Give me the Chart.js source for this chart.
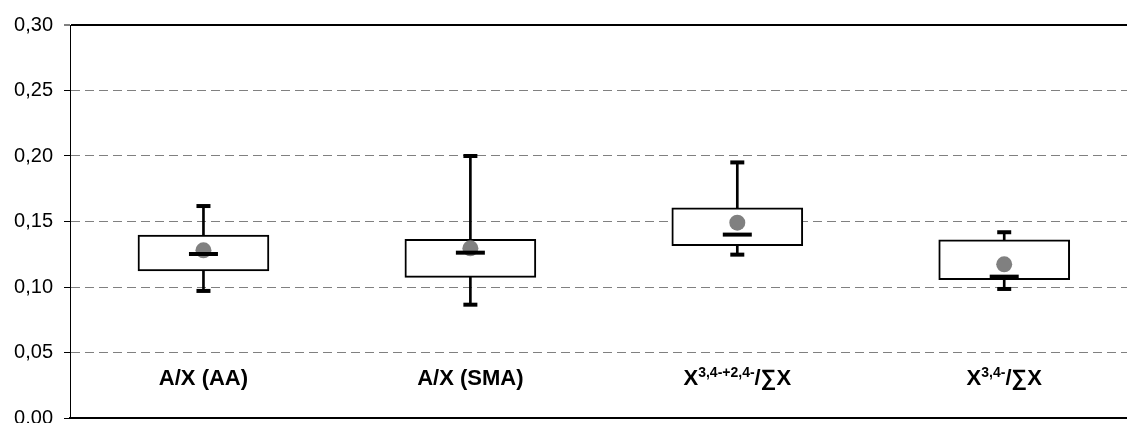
<!DOCTYPE html>
<html><head><meta charset="utf-8">
<script src="https://cdn.jsdelivr.net/npm/chart.js@4.4.1/dist/chart.umd.min.js"></script>
<style>html,body{margin:0;padding:0;background:#fff}#wrap{width:1127px;height:423px;position:relative}</style>
</head><body><div id="wrap"><canvas id="c"></canvas></div>
<script>
// ---- data ----
const categories = ['A/X (AA)', 'A/X (SMA)', 'X3,4-+2,4-/∑X', 'X3,4-/∑X'];
const labelParts = [
  [['A/X (AA)', false]],
  [['A/X (SMA)', false]],
  [['X', false], ['3,4-+2,4-', true], ['/∑X', false]],
  [['X', false], ['3,4-', true], ['/∑X', false]]
];
const xPositions = [0.5, 1.5, 2.5, 3.5];
const whiskerMin = [0.0970, 0.0865, 0.1247, 0.0985];
const q1 = [0.1122, 0.1074, 0.1315, 0.1056];
const median = [0.1252, 0.1262, 0.1400, 0.1079];
const q3 = [0.1397, 0.1364, 0.1605, 0.1361];
const whiskerMax = [0.1618, 0.2000, 0.1951, 0.1418];
const mean = [0.1280, 0.1295, 0.1491, 0.1173];
const yTickValues = [0, 0.05, 0.10, 0.15, 0.20, 0.25, 0.30];
const yTickLabels = ['0,00', '0,05', '0,10', '0,15', '0,20', '0,25', '0,30'];
const X_MAX = 3.96;
const LABEL_Y = 0.025;

const FONT = '"Liberation Sans", Arial, Helvetica, sans-serif';

const labelPlugin = {
  id: 'catLabels',
  afterDatasetsDraw(chart) {
    const {ctx, scales: {x, y}} = chart;
    ctx.save();
    ctx.fillStyle = '#000';
    ctx.textBaseline = 'alphabetic';
    const mainFont = 'bold 22px ' + FONT;
    const supFont = 'bold 14px ' + FONT;
    labelParts.forEach((parts, i) => {
      let total = 0;
      const widths = parts.map(([t, sup]) => {
        ctx.font = sup ? supFont : mainFont;
        const w = ctx.measureText(t).width;
        total += w;
        return w;
      });
      let px = x.getPixelForValue(xPositions[i]) - total / 2;
      const py = y.getPixelForValue(LABEL_Y);
      parts.forEach(([t, sup], j) => {
        ctx.font = sup ? supFont : mainFont;
        ctx.fillText(t, px, sup ? py - 8 : py);
        px += widths[j];
      });
    });
    ctx.restore();
  }
};

const pts = arr => arr.map((v, i) => ({x: xPositions[i], y: v}));
const isTop = c => c.tick && c.tick.value > 0.29;

new Chart(document.getElementById('c'), {
  type: 'bar',
  data: {
    datasets: [
      {
        type: 'line', label: 'median', data: pts(median), showLine: false,
        pointStyle: 'line', pointRadius: 14.5, pointHoverRadius: 14.5,
        borderColor: '#000', pointBorderWidth: 4, borderWidth: 4, order: 0
      },
      {
        type: 'line', label: 'capMax', data: pts(whiskerMax), showLine: false,
        pointStyle: 'line', pointRadius: 7, pointHoverRadius: 7,
        borderColor: '#000', pointBorderWidth: 4, borderWidth: 4, order: 1
      },
      {
        type: 'line', label: 'capMin', data: pts(whiskerMin), showLine: false,
        pointStyle: 'line', pointRadius: 7, pointHoverRadius: 7,
        borderColor: '#000', pointBorderWidth: 4, borderWidth: 4, order: 1
      },
      {
        type: 'line', label: 'mean', data: pts(mean), showLine: false,
        pointStyle: 'circle', pointRadius: 8, pointHoverRadius: 8,
        pointBackgroundColor: '#808080', pointBorderWidth: 0, borderColor: '#808080', order: 2
      },
      {
        label: 'box', data: q1.map((v, i) => ({x: xPositions[i], y: [v, q3[i]]})),
        backgroundColor: '#fff', borderColor: '#000', borderWidth: 2, borderSkipped: false,
        barThickness: 131, grouped: false, order: 3
      },
      {
        label: 'whisker', data: whiskerMin.map((v, i) => ({x: xPositions[i], y: [v, whiskerMax[i]]})),
        backgroundColor: '#000', borderWidth: 0, barThickness: 2, grouped: false, order: 4
      }
    ]
  },
  options: {
    responsive: true, maintainAspectRatio: false, animation: false,
    layout: {autoPadding: false, padding: {top: 25, bottom: 5, left: 0, right: 0}},
    plugins: {legend: {display: false}, tooltip: {enabled: false}},
    scales: {
      x: {
        type: 'linear', min: 0, max: X_MAX, offset: false,
        grid: {display: false},
        ticks: {display: false},
        border: {display: true, color: '#000', width: 2},
        afterFit: s => { s.paddingLeft = 0; s.paddingRight = 0; s.height = 0; }
      },
      y: {
        type: 'linear', min: 0, max: 0.30,
        afterBuildTicks: s => { s.ticks = yTickValues.map(v => ({value: v})); },
        afterFit: s => { s.width = 70; s.paddingTop = 0; s.paddingBottom = 0; },
        ticks: {
          callback: (v, i) => yTickLabels[i],
          color: '#000', font: {family: FONT, size: 20}, padding: 11
        },
        grid: {
          color: c => isTop(c) ? '#000' : '#808080',
          lineWidth: c => isTop(c) ? 2 : 1,
          tickColor: '#000', tickLength: 6, tickWidth: 1
        },
        border: {display: true, color: '#000', width: 1, dash: c => isTop(c) ? [] : [9, 5]}
      }
    }
  },
  plugins: [labelPlugin]
});
</script>
</body></html>
